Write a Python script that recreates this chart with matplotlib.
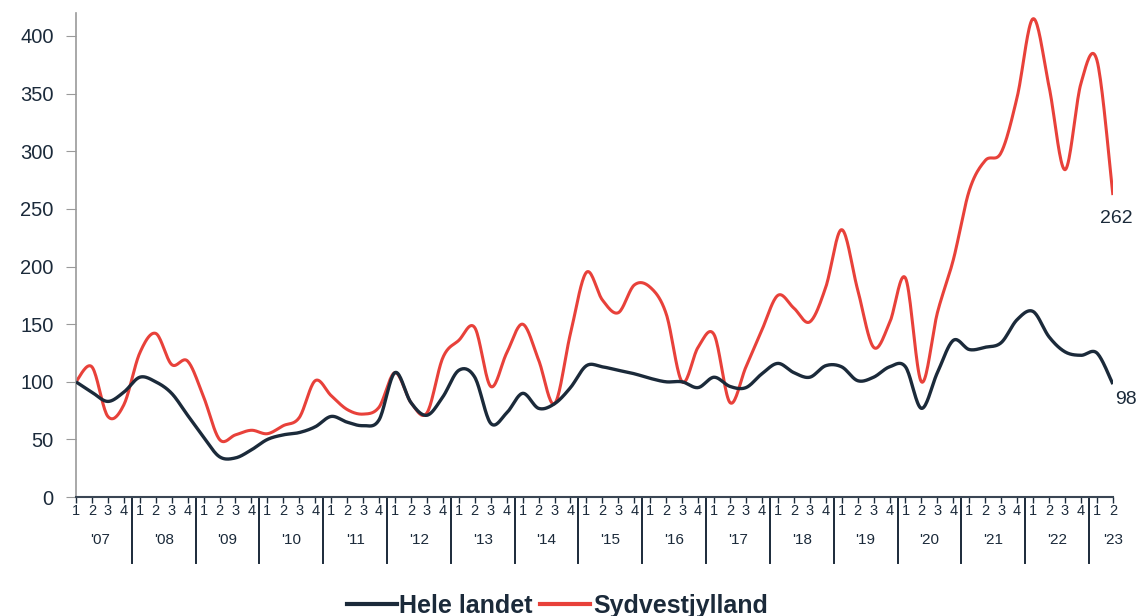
import numpy as np
import matplotlib.pyplot as plt
from matplotlib.lines import Line2D

plt.rcParams['font.family'] = ['Liberation Sans', 'DejaVu Sans']

# quarterly index, 2007 Q1 .. 2023 Q2
years = ["'07", "'08", "'09", "'10", "'11", "'12", "'13", "'14", "'15",
         "'16", "'17", "'18", "'19", "'20", "'21", "'22", "'23"]
quarters = ['1', '2', '3', '4']

hele_landet = [100, 91, 83, 91, 104, 100, 90, 71, 52, 35, 34, 41,
               50, 54, 56, 61, 70, 65, 62, 67, 108, 82, 71, 87,
               110, 104, 64, 73, 90, 77, 81, 95, 114, 113, 110, 107,
               103, 100, 100, 95, 104, 96, 95, 107, 116, 108, 104, 114,
               113, 101, 104, 113, 113, 77, 108, 136, 128, 130, 134, 154,
               161, 139, 126, 123, 125, 98]
sydvestjylland = [100, 113, 70, 80, 125, 142, 115, 118, 87, 50, 54, 58,
                  55, 62, 69, 101, 88, 76, 72, 78, 108, 82, 73, 121,
                  136, 147, 96, 125, 150, 119, 81, 142, 195, 171, 160, 184,
                  182, 159, 100, 130, 141, 82, 113, 145, 175, 164, 152, 182,
                  232, 180, 130, 151, 190, 100, 160, 206, 266, 292, 299, 347,
                  415, 356, 284, 359, 379, 262]

navy = '#1b2a3a'
red = '#e8413a'


def smooth(y, n=20):
    # Excel-style smoothed line (Catmull-Rom through the data points)
    y = np.asarray(y, float)
    x = np.arange(len(y), dtype=float)
    xs, ys = [], []
    for i in range(len(y) - 1):
        p0 = max(i - 1, 0)
        p3 = min(i + 2, len(y) - 1)
        c1x = x[i] + (x[i + 1] - x[p0]) / 6
        c1y = y[i] + (y[i + 1] - y[p0]) / 6
        c2x = x[i + 1] - (x[p3] - x[i]) / 6
        c2y = y[i + 1] - (y[p3] - y[i]) / 6
        t = np.linspace(0, 1, n, endpoint=False)
        b0, b1, b2, b3 = (1 - t) ** 3, 3 * t * (1 - t) ** 2, 3 * t ** 2 * (1 - t), t ** 3
        xs.append(b0 * x[i] + b1 * c1x + b2 * c2x + b3 * x[i + 1])
        ys.append(b0 * y[i] + b1 * c1y + b2 * c2y + b3 * y[i + 1])
    xs.append([x[-1]])
    ys.append([y[-1]])
    return np.concatenate(xs), np.concatenate(ys)


fig = plt.figure(figsize=(11.42, 6.16), dpi=100)
ax = fig.add_axes([0.0665, 0.193, 0.908, 0.786])

hx, hy = smooth(hele_landet)
sx, sy = smooth(sydvestjylland)
ax.plot(hx, hy, color=navy, lw=2.4, solid_capstyle='butt', zorder=3)
ax.plot(sx, sy, color=red, lw=2.2, solid_capstyle='butt', zorder=2)

n = len(hele_landet)
ax.set_xlim(0, n - 1)
ax.set_ylim(0, 420)
ax.set_yticks(range(0, 401, 50))
ax.tick_params(axis='y', labelsize=14.5, length=7, color='#9a9a9a', labelcolor='#1b2a3a', pad=9)

ax.set_xticks(range(n))
ax.set_xticklabels([quarters[i % 4] for i in range(n)])
ax.tick_params(axis='x', labelsize=10.5, length=4, width=1, color=navy, labelcolor='#1b2a3a', pad=1)

for s in ['top', 'right']:
    ax.spines[s].set_visible(False)
ax.spines['left'].set_color('#9a9a9a')
ax.spines['left'].set_linewidth(1.2)
ax.spines['bottom'].set_color('#3a4654')
ax.spines['bottom'].set_linewidth(1.5)

trans = ax.get_xaxis_transform()
for k, yr in enumerate(years):
    start = 4 * k
    end = min(4 * k + 3, n - 1)
    ax.text((start + end) / 2 + (0.5 if k == len(years) - 1 else 0), -0.089, yr,
            transform=trans, ha='center', va='center', fontsize=11, color='#1b2a3a')
    if 4 * k + 3.5 < n - 1:
        ax.add_line(Line2D([4 * k + 3.5] * 2, [0, -0.136], transform=trans,
                           color=navy, lw=1.4, clip_on=False))

ax.text(n - 1 + 0.2, sydvestjylland[-1] - 20, str(sydvestjylland[-1]), ha='center', va='center',
        fontsize=14, color='#1b2a3a')
ax.text(n - 1 + 0.8, hele_landet[-1] - 13, str(hele_landet[-1]), ha='center', va='center',
        fontsize=14, color='#1b2a3a')

handles = [Line2D([], [], color=navy, lw=3), Line2D([], [], color=red, lw=3)]
fig.legend(handles, ['Hele landet', 'Sydvestjylland'], loc='center', ncol=2,
           bbox_to_anchor=(0.488, 0.016), frameon=False,
           prop={'weight': 'bold', 'size': 18}, handlelength=2.0,
           handletextpad=0.1, columnspacing=0.3, labelcolor='#1b2a3a')

fig.savefig('out.png', dpi=100)
